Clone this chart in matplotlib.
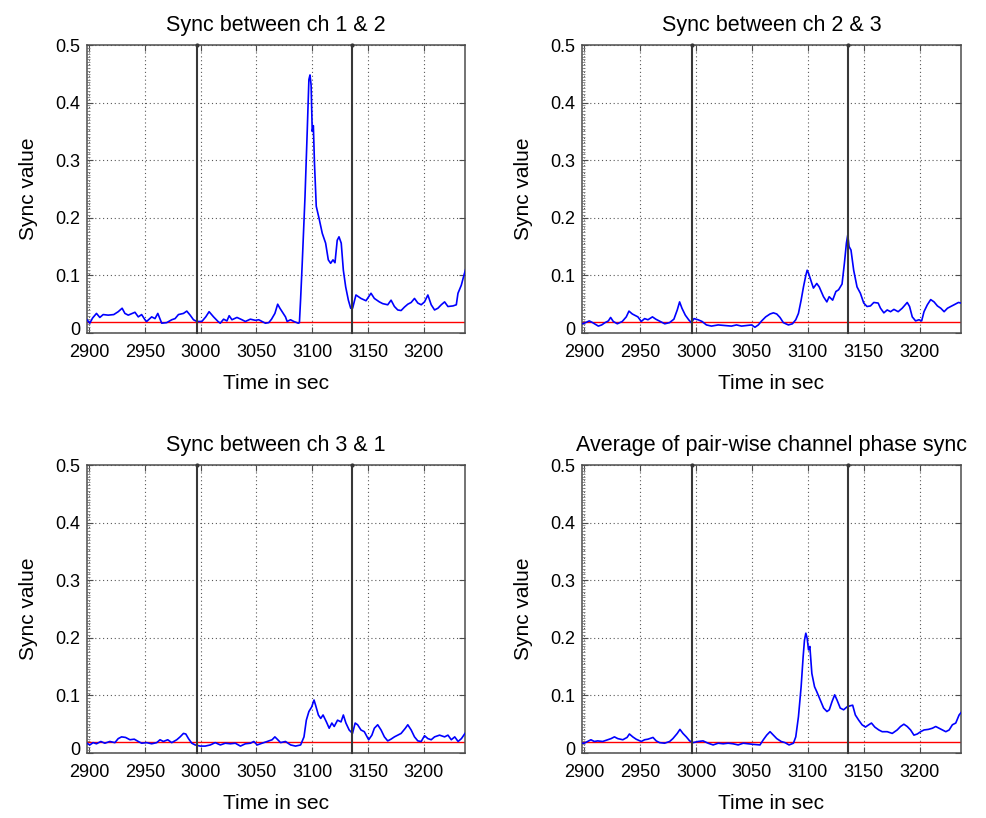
import numpy as np
import matplotlib
matplotlib.use("Agg")
import matplotlib.pyplot as plt
from matplotlib.ticker import MultipleLocator
from matplotlib.transforms import ScaledTranslation

plt.rcParams['font.family'] = ['Liberation Sans', 'DejaVu Sans']

titles = ["Sync between ch 1 & 2", "Sync between ch 2 & 3",
          "Sync between ch 3 & 1", "Average of pair-wise channel phase sync"]
xlabel = "Time in sec"
ylabel = "Sync value"
xticks = [2900, 2950, 3000, 3050, 3100, 3150, 3200]
yticks = [0, 0.1, 0.2, 0.3, 0.4, 0.5]
ytick_labels = ['0', '0.1', '0.2', '0.3', '0.4', '0.5']
event_times = [2996.5, 3136.0]
threshold = 0.019

# Panel 1: ch 1 & 2
t1 = [2898, 2900.5, 2903, 2906.5, 2909.5, 2912.5, 2917, 2922, 2926, 2929.5, 2932, 2935,
      2941, 2944, 2947, 2950, 2951.5, 2956, 2959, 2961.5, 2965, 2969.5, 2974, 2977, 2980,
      2984.5, 2987.5, 2990.5, 2993.5, 2996.5, 3001, 3004.5, 3007.5, 3011.5, 3015.5, 3017.5,
      3020.5, 3023.5, 3025.5, 3028, 3032.5, 3037, 3040, 3044.5, 3049, 3052, 3058, 3061,
      3063.5, 3066.5, 3069, 3071, 3073, 3076, 3077.5, 3080.5, 3083.5, 3087.5, 3088.5,
      3089.6, 3091, 3093.5, 3095.5, 3097, 3098, 3099, 3100, 3101, 3102, 3103.6, 3106, 3109,
      3112, 3114.4, 3116.5, 3118.6, 3120.4, 3122.4, 3124, 3126, 3127.9, 3130, 3132.4, 3134.5,
      3136.2, 3139.2, 3143.7, 3148.2, 3152.7, 3155.7, 3160.2, 3163.2, 3167.7, 3170.7, 3173.7,
      3176.7, 3179.7, 3182.7, 3185.7, 3188.7, 3191.7, 3194.7, 3197.7, 3200.7, 3203.7, 3206.7,
      3209.7, 3212.7, 3215.7, 3218.7, 3221.7, 3226.2, 3229.2, 3230.7, 3233.7, 3236.0, 3237.5]
v1 = [0.023, 0.017, 0.026, 0.034, 0.027, 0.032, 0.031, 0.032, 0.037, 0.043, 0.034, 0.031,
      0.036, 0.028, 0.032, 0.023, 0.020, 0.028, 0.025, 0.034, 0.017, 0.018, 0.023, 0.025, 0.032,
      0.034, 0.038, 0.031, 0.023, 0.020, 0.020, 0.028, 0.037, 0.028, 0.020, 0.017,
      0.024, 0.021, 0.030, 0.023, 0.027, 0.023, 0.020, 0.024, 0.022, 0.023, 0.017, 0.018,
      0.024, 0.034, 0.050, 0.043, 0.037, 0.028, 0.020, 0.023, 0.020, 0.017, 0.018,
      0.060, 0.120, 0.236, 0.350, 0.440, 0.448, 0.430, 0.350, 0.360, 0.295, 0.220, 0.200, 0.173,
      0.156, 0.127, 0.121, 0.127, 0.122, 0.161, 0.167, 0.156, 0.109, 0.080, 0.057, 0.043,
      0.043, 0.066, 0.060, 0.056, 0.069, 0.060, 0.054, 0.051, 0.049, 0.057, 0.046,
      0.040, 0.039, 0.045, 0.050, 0.053, 0.060, 0.052, 0.049, 0.054, 0.066, 0.049,
      0.040, 0.043, 0.049, 0.054, 0.046, 0.047, 0.049, 0.069, 0.083, 0.100, 0.110]

# Panel 2: ch 2 & 3
t2 = [2898, 2900, 2904.5, 2907.5, 2912.6, 2915.6, 2918.6, 2921.6, 2923.6, 2926, 2929.6,
      2934, 2937.6, 2940, 2943, 2948, 2951, 2954, 2957, 2961, 2964, 2968, 2972, 2976.3,
      2980.2, 2983.2, 2985.3, 2987.4, 2990.4, 2993.4, 2995.8, 2998.2, 3001.8, 3005.4, 3009.3,
      3013.8, 3019.8, 3025.7, 3031.7, 3036.2, 3040.7, 3045.2, 3049.7, 3052.7, 3055.7, 3058.7,
      3062.3, 3066.2, 3069.2, 3072.2, 3075.1, 3078.1, 3082.6, 3086.2, 3089.2, 3091.6, 3094,
      3096.1, 3098.2, 3099.4, 3100.6, 3102.1, 3103.6, 3105, 3108, 3110.2, 3114, 3117, 3119.1,
      3122.2, 3125.1, 3127.5, 3130.6, 3132.7, 3134.5, 3135.7, 3136.9, 3138.6, 3141, 3144,
      3147, 3150, 3152.9, 3156, 3159, 3162.9, 3165, 3168, 3171, 3174, 3177, 3180.8, 3184.4,
      3188.9, 3191, 3193.4, 3196.4, 3199.4, 3201.8, 3203.9, 3206.9, 3209.9, 3212.9, 3215.9,
      3218.9, 3221.9, 3224.9, 3227.8, 3230.8, 3234.7, 3237]
v2 = [0.016, 0.017, 0.021, 0.018, 0.012, 0.014, 0.018, 0.021, 0.027, 0.020, 0.016,
      0.020, 0.028, 0.038, 0.033, 0.028, 0.020, 0.025, 0.023, 0.028, 0.024, 0.020, 0.016, 0.018,
      0.024, 0.040, 0.054, 0.043, 0.031, 0.023, 0.018, 0.025, 0.023, 0.020, 0.014,
      0.012, 0.014, 0.013, 0.012, 0.014, 0.012, 0.013, 0.014, 0.010, 0.014, 0.021,
      0.028, 0.033, 0.035, 0.033, 0.027, 0.018, 0.014, 0.016, 0.023, 0.034, 0.057,
      0.080, 0.100, 0.109, 0.104, 0.095, 0.086, 0.078, 0.086, 0.080, 0.063, 0.054, 0.063,
      0.057, 0.072, 0.075, 0.085, 0.121, 0.156, 0.170, 0.150, 0.144, 0.109, 0.080,
      0.069, 0.052, 0.046, 0.047, 0.053, 0.052, 0.043, 0.035, 0.040, 0.037, 0.041, 0.037, 0.043,
      0.053, 0.046, 0.028, 0.021, 0.023, 0.021, 0.037, 0.049, 0.058, 0.054, 0.047,
      0.043, 0.037, 0.043, 0.046, 0.049, 0.053, 0.052]

# Panel 3: ch 3 & 1
t3 = [2898, 2900.5, 2903.5, 2906.5, 2910.4, 2914, 2918.5, 2923, 2926, 2929, 2932.6, 2936.5,
      2940.4, 2944, 2947, 2951.5, 2956, 2960.5, 2963.5, 2966.5, 2970.4, 2974, 2978.5, 2981.5,
      2984.5, 2986.6, 2989, 2992, 2995, 2999.5, 3004, 3008.6, 3013, 3017.6, 3022, 3026.6,
      3031, 3035.6, 3040, 3044.6, 3047.6, 3050.6, 3055, 3059.6, 3064, 3066.5, 3068.6, 3071.6,
      3076, 3080.6, 3085, 3089.6, 3092.6, 3094.7, 3097, 3099.5, 3101.6, 3103, 3105.5, 3107.6,
      3109.7, 3112.7, 3115.2, 3117.6, 3119.7, 3122.7, 3125.8, 3127.9, 3130.2, 3133.1, 3136.1,
      3138.5, 3140.7, 3143.7, 3146.7, 3150.6, 3153.5, 3155.7, 3158.7, 3161.7, 3164.7, 3167.7,
      3170.6, 3173.7, 3176.7, 3179.7, 3183.5, 3185.7, 3188.7, 3191.7, 3194.7, 3197.7, 3200.7,
      3203.7, 3206.7, 3209.7, 3214.2, 3218.7, 3221.7, 3224.7, 3227.8, 3230.8, 3233.8, 3237]
v3 = [0.017, 0.014, 0.018, 0.016, 0.020, 0.017, 0.020, 0.018, 0.025, 0.028, 0.027, 0.023,
      0.024, 0.020, 0.017, 0.018, 0.016, 0.018, 0.023, 0.020, 0.023, 0.018, 0.023, 0.028,
      0.034, 0.033, 0.025, 0.017, 0.014, 0.012, 0.012, 0.014, 0.018, 0.014, 0.017, 0.016,
      0.017, 0.012, 0.016, 0.017, 0.020, 0.014, 0.017, 0.020, 0.023, 0.028, 0.024, 0.018,
      0.020, 0.014, 0.012, 0.014, 0.028, 0.057, 0.072, 0.080, 0.092, 0.083, 0.066, 0.060,
      0.066, 0.054, 0.043, 0.052, 0.046, 0.057, 0.054, 0.066, 0.052, 0.040, 0.034,
      0.052, 0.049, 0.040, 0.037, 0.023, 0.031, 0.043, 0.049, 0.040, 0.028, 0.021,
      0.024, 0.028, 0.031, 0.034, 0.043, 0.049, 0.040, 0.028, 0.021, 0.020, 0.030,
      0.025, 0.023, 0.028, 0.031, 0.028, 0.031, 0.023, 0.028, 0.020, 0.025, 0.034]

# Panel 4: average
t4 = [2898, 2900, 2903, 2906, 2909, 2912, 2916.5, 2921, 2924, 2927, 2930, 2934.5, 2938.3,
      2940.4, 2943.4, 2946.4, 2951, 2954, 2957, 2961.5, 2964.4, 2967.4, 2971.9, 2976.4, 2979.3,
      2983.2, 2985.6, 2988.3, 2991.3, 2994.3, 2997.3, 3001.8, 3006.3, 3010.8, 3015.3, 3019.8,
      3024.3, 3028.7, 3033.2, 3037.7, 3042.2, 3046.7, 3051.2, 3057.2, 3060.2, 3063.2, 3066.2,
      3069.2, 3072.2, 3076.1, 3079.6, 3083.2, 3087.1, 3089.2, 3091.6, 3094, 3095.8, 3097,
      3098.2, 3099.4, 3100.6, 3101.8, 3103.6, 3106, 3108.1, 3111.1, 3114.1, 3117.1, 3119.2,
      3121.6, 3124, 3126.1, 3129, 3132, 3135, 3138, 3140.1, 3142.5, 3145.5, 3148.5, 3151.5,
      3154.5, 3156.9, 3159.9, 3163.5, 3166.5, 3171, 3175.5, 3179.9, 3182.9, 3185.9, 3188.9,
      3191.9, 3194.9, 3197.9, 3200.9, 3203.9, 3207.8, 3211.4, 3214.4, 3217.4, 3220.4, 3223.4,
      3226.4, 3229.3, 3232.3, 3235.3, 3237]
v4 = [0.017, 0.017, 0.020, 0.023, 0.020, 0.021, 0.020, 0.023, 0.025, 0.028, 0.025, 0.023, 0.027,
      0.033, 0.028, 0.024, 0.020, 0.023, 0.024, 0.027, 0.021, 0.018, 0.017, 0.020, 0.025,
      0.034, 0.041, 0.034, 0.028, 0.021, 0.018, 0.020, 0.021, 0.017, 0.014, 0.017,
      0.016, 0.017, 0.016, 0.014, 0.017, 0.016, 0.015, 0.014, 0.023, 0.031, 0.037,
      0.031, 0.025, 0.020, 0.018, 0.014, 0.017, 0.028, 0.063, 0.115, 0.167, 0.196,
      0.208, 0.199, 0.179, 0.185, 0.138, 0.115, 0.106, 0.092, 0.078, 0.072, 0.075,
      0.089, 0.101, 0.092, 0.078, 0.075, 0.080, 0.082, 0.083, 0.066, 0.057, 0.049, 0.045,
      0.049, 0.052, 0.045, 0.040, 0.037, 0.037, 0.034, 0.040, 0.046, 0.050, 0.046,
      0.040, 0.031, 0.033, 0.037, 0.040, 0.041, 0.043, 0.046, 0.043, 0.040, 0.037,
      0.040, 0.049, 0.052, 0.066, 0.070]

series = [(t1, v1), (t2, v2), (t3, v3), (t4, v4)]

W, H = 986, 818
fig = plt.figure(figsize=(W / 100, H / 100), dpi=100)
boxes = [(87, 45, 465, 333), (582, 45, 961, 333), (87, 465, 465, 753), (582, 465, 961, 753)]

for (l, tp, r, b), (tt, vv), title in zip(boxes, series, titles):
    ax = fig.add_axes([l / W, 1 - b / H, (r - l) / W, (b - tp) / H])
    ax.plot(tt, vv, color='#0000ff', lw=1.2, zorder=3)
    ax.axhline(threshold, color='#ff0000', lw=1.0, zorder=2)
    for et in event_times:
        ax.plot([et, et], [0, 0.5], color='0.22', lw=1.5, marker='.', ms=4,
                markevery=[1], zorder=4, clip_on=False)
    ax.set_xlim(2898, 3237)
    ax.set_ylim(0, 0.5)
    ax.set_xticks(xticks)
    ax.set_yticks(yticks)
    ax.set_yticklabels(ytick_labels)
    ax.yaxis.set_minor_locator(MultipleLocator(0.005))
    ax.grid(True, which='major', color='0.35', linestyle=(0, (1, 2.5)), lw=0.8)
    ax.tick_params(which='major', direction='in', length=4, width=0.8, top=True, right=True,
                   labelsize=13, colors='0.3', labelcolor='black')
    ax.tick_params(axis='x', which='major', pad=8)
    ax.tick_params(axis='y', which='major', pad=5)
    ax.tick_params(which='minor', direction='in', length=2, width=0.6, left=True, right=False,
                   colors='0.5')
    # lift the "0" label slightly so it clears the x tick labels (as in the reference)
    zero_lbl = ax.get_yticklabels()[0]
    zero_lbl.set_transform(zero_lbl.get_transform() + ScaledTranslation(0, 3 / 72, fig.dpi_scale_trans))
    for s in ax.spines.values():
        s.set_color('0.3')
        s.set_linewidth(1.1)
    ax.set_title(title, fontsize=15.5, pad=10)
    ax.set_xlabel(xlabel, fontsize=15, labelpad=9)
    ax.set_ylabel(ylabel, fontsize=15, labelpad=12)

fig.savefig('out.png', dpi=100)
